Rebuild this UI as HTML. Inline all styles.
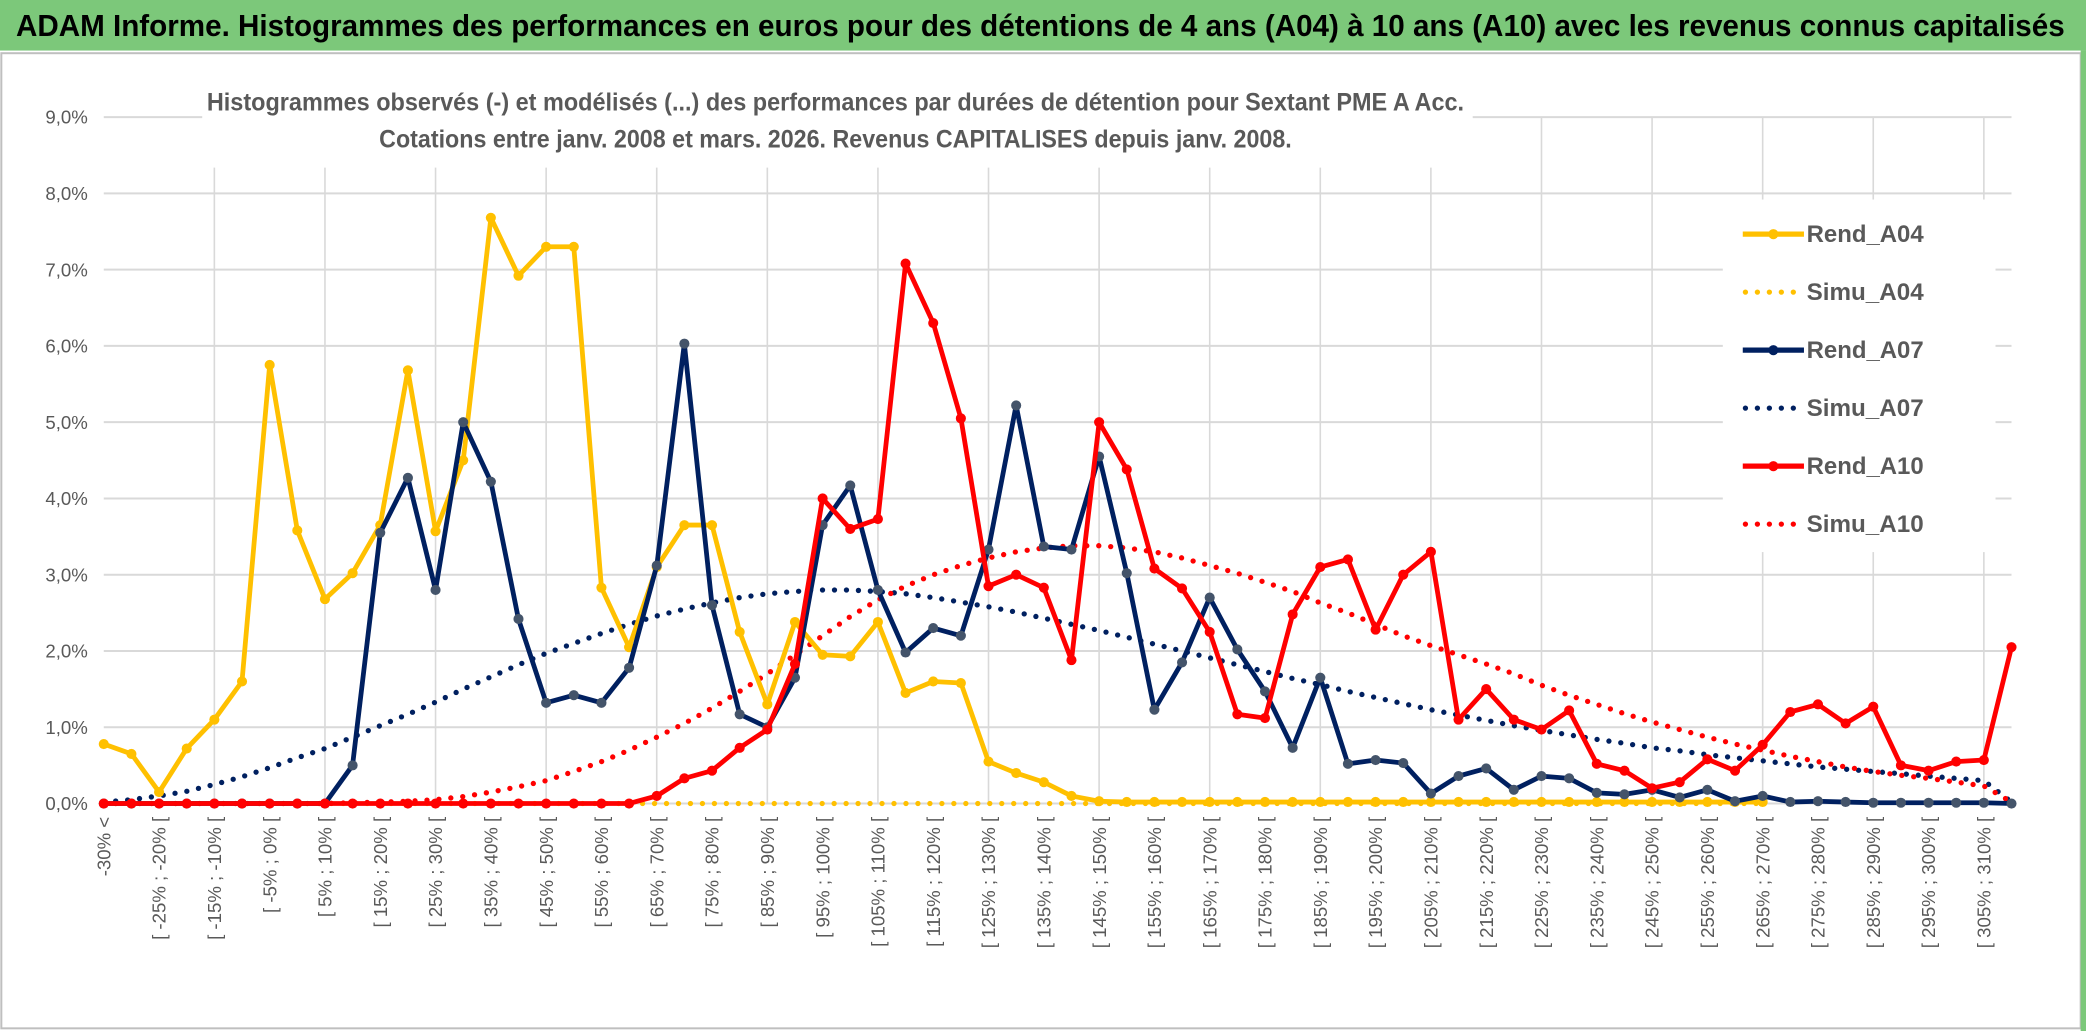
<!DOCTYPE html>
<html><head><meta charset="utf-8"><style>
html,body{margin:0;padding:0;background:#fff;}
svg{display:block;font-family:"Liberation Sans",sans-serif;}
</style></head><body>
<svg id="chart" width="2086" height="1031" viewBox="0 0 1568 775" preserveAspectRatio="none" xmlns="http://www.w3.org/2000/svg">
<rect x="0" y="0" width="1568" height="775" fill="#fff"/>
<rect x="0" y="0" width="1568" height="38" fill="#7cc87a"/>
<text x="12" y="27" font-size="23" font-weight="bold" fill="#000" textLength="1540" lengthAdjust="spacingAndGlyphs">ADAM Informe. Histogrammes des performances en euros pour des détentions de 4 ans (A04) à 10 ans (A10) avec les revenus connus capitalisés</text>
<rect x="1" y="40" width="1563" height="733" fill="none" stroke="#bfbfbf" stroke-width="1.5"/>
<rect x="1564" y="38" width="4" height="737" fill="#7cc87a"/>
<g id="grid"></g>
<g id="yaxis"></g>
<g id="xaxis"></g>
<g id="series"></g>
<rect x="152" y="62" width="955" height="64" fill="#fff"/>
<text x="628" y="83" font-size="19" font-weight="bold" fill="#595959" text-anchor="middle" textLength="945" lengthAdjust="spacingAndGlyphs">Histogrammes observés (-) et modélisés (...) des performances par durées de détention pour Sextant PME A Acc.</text>
<text x="628" y="111" font-size="19" font-weight="bold" fill="#595959" text-anchor="middle" textLength="686" lengthAdjust="spacingAndGlyphs">Cotations entre janv. 2008 et mars. 2026. Revenus CAPITALISES depuis janv. 2008.</text>
<rect x="1295" y="150" width="205" height="265" fill="#fff"/>
<g id="legend"></g>
</svg>
<script>
const categories = ["-30% <"];
for (let a = -30; a < 315; a += 5) categories.push("[ " + a + "% ; " + (a + 5) + "% [");
const yTicks = [0,1,2,3,4,5,6,7,8,9];
const rendA04 = [0.78,0.65,0.15,0.72,1.1,1.6,5.75,3.58,2.68,3.02,3.65,5.68,3.57,4.5,7.68,6.92,7.3,7.3,2.83,2.05,3.1,3.65,3.65,2.25,1.3,2.38,1.95,1.93,2.38,1.45,1.6,1.58,0.55,0.4,0.28,0.1,0.03,0.02,0.02,0.02,0.02,0.02,0.02,0.02,0.02,0.02,0.02,0.02,0.02,0.02,0.02,0.02,0.02,0.02,0.02,0.02,0.02,0.02,0.02,0.02,0.02];
const simuA04 = [0,0,0,0,0,0,0,0,0,0,0,0,0,0,0,0,0,0,0,0,0,0,0,0,0,0,0,0,0,0,0,0,0,0,0,0,0,0,0,0,0,0,0,0,0,0,0,0,0,0,0,0,0,0,0,0,0,0,0,0,0];
const rendA07 = [0,0,0,0,0,0,0,0,0,0.5,3.55,4.27,2.8,5.0,4.22,2.42,1.32,1.42,1.32,1.78,3.12,6.03,2.6,1.17,1.0,1.65,3.65,4.17,2.8,1.98,2.3,2.2,3.33,5.22,3.37,3.33,4.55,3.02,1.23,1.85,2.7,2.02,1.47,0.73,1.65,0.52,0.57,0.53,0.13,0.36,0.46,0.18,0.36,0.33,0.14,0.12,0.18,0.08,0.18,0.03,0.1,0.02,0.03,0.02,0.01,0.01,0.01,0.01,0.01,0];
const simuA07 = [0.02,0.05,0.1,0.16,0.25,0.35,0.47,0.6,0.72,0.87,1.02,1.17,1.33,1.5,1.66,1.82,1.97,2.1,2.23,2.35,2.46,2.55,2.63,2.7,2.75,2.78,2.8,2.8,2.78,2.75,2.7,2.64,2.58,2.51,2.43,2.35,2.27,2.18,2.09,2.0,1.91,1.82,1.73,1.64,1.56,1.47,1.39,1.31,1.23,1.16,1.09,1.02,0.96,0.9,0.84,0.79,0.73,0.69,0.64,0.6,0.56,0.52,0.48,0.45,0.42,0.39,0.36,0.33,0.3,0.02];
const rendA10 = [0,0,0,0,0,0,0,0,0,0,0,0,0,0,0,0,0,0,0,0,0.1,0.33,0.43,0.73,0.97,1.83,4.0,3.6,3.73,7.08,6.3,5.05,2.85,3.0,2.83,1.88,5.0,4.38,3.08,2.82,2.25,1.17,1.12,2.48,3.1,3.2,2.28,3.0,3.3,1.1,1.5,1.1,0.97,1.22,0.52,0.43,0.2,0.28,0.58,0.43,0.77,1.2,1.3,1.05,1.27,0.5,0.43,0.55,0.57,2.05];
const simuA10 = [0,0,0,0,0,0,0,0,0,0.01,0.02,0.03,0.05,0.09,0.15,0.22,0.3,0.42,0.55,0.7,0.87,1.05,1.25,1.47,1.7,1.95,2.2,2.45,2.67,2.85,3.0,3.12,3.22,3.3,3.35,3.38,3.38,3.35,3.3,3.22,3.12,3.02,2.9,2.78,2.63,2.5,2.35,2.2,2.07,1.95,1.83,1.7,1.55,1.42,1.3,1.18,1.07,0.97,0.87,0.78,0.7,0.62,0.55,0.48,0.42,0.37,0.33,0.28,0.23,0.02];

const NS = "http://www.w3.org/2000/svg";
const X0 = 78, X1 = 1512, Y0 = 604, YPER = 57.33;
function xs(i){ return X0 + i * (X1 - X0) / (categories.length - 1); }
function ys(v){ return Y0 - v * YPER; }
function mk(tag, attrs, parent){ const e = document.createElementNS(NS, tag); for (const k in attrs) e.setAttribute(k, attrs[k]); parent.appendChild(e); return e; }

const grid = document.getElementById("grid");
const yaxis = document.getElementById("yaxis");
const xaxis = document.getElementById("xaxis");
yTicks.forEach(t => {
  const l = mk("line", {x1: X0, x2: X1, y1: ys(t), y2: ys(t), stroke: "#d9d9d9", "stroke-width": 1.5}, grid);
  
  
  const tx = mk("text", {x: 66, y: ys(t) + 5, "font-size": 14, fill: "#595959", "text-anchor": "end"}, yaxis);
  tx.textContent = t.toFixed(1).replace(".", ",") + "%";
  
  
});
categories.forEach((c, i) => {
  if (i % 4 === 0 && i > 0) {
    const l = mk("line", {x1: xs(i), x2: xs(i), y1: ys(9), y2: Y0, stroke: "#d9d9d9", "stroke-width": 1.2}, grid);
    
    
  }
  if (i % 2 === 0) {
    const tx = mk("text", {x: 0, y: 0, "font-size": 14, fill: "#595959", "text-anchor": "end", transform: "translate(" + (xs(i) + 5) + ",614) rotate(-90)"}, xaxis);
    tx.textContent = c;
    
    
  }
});
const ax = mk("line", {x1: X0, x2: X1, y1: Y0, y2: Y0, stroke: "#d9d9d9", "stroke-width": 1.5}, grid);



const seriesG = document.getElementById("series");
function pts(arr){ return arr.map((v, i) => xs(i).toFixed(1) + "," + ys(v).toFixed(1)).join(" "); }
function dotted(arr, color, name){
  const p = mk("polyline", {points: pts(arr), fill: "none", stroke: color, "stroke-width": 4, "stroke-linecap": "round", "stroke-dasharray": "0 9"}, seriesG);
  
  
}
function solid(arr, color, mcolor, name){
  const g = mk("g", {}, seriesG);
  
  
  mk("polyline", {points: pts(arr), fill: "none", stroke: color, "stroke-width": 3.6, "stroke-linejoin": "round"}, g);
  arr.forEach((v, i) => {
    const c = mk("circle", {cx: xs(i), cy: ys(v), r: 3.8, fill: mcolor}, g);
    
    
  });
}
dotted(simuA04, "#ffc000", "simu-a04-line");
dotted(simuA07, "#002060", "simu-a07-line");
dotted(simuA10, "#ff0000", "simu-a10-line");
solid(rendA04, "#ffc000", "#ffc000", "rend-a04-line");
solid(rendA07, "#002060", "#44546a", "rend-a07-line");
solid(rendA10, "#ff0000", "#ff0000", "rend-a10-line");

const legend = document.getElementById("legend");
const legendItems = [["Rend_A04","#ffc000",false],["Simu_A04","#ffc000",true],["Rend_A07","#002060",false],["Simu_A07","#002060",true],["Rend_A10","#ff0000",false],["Simu_A10","#ff0000",true]];
legendItems.forEach((it, k) => {
  const y = 176 + k * 43.6;
  const g = mk("g", {}, legend);
  
  
  if (it[2]) mk("line", {x1: 1312, x2: 1354, y1: y, y2: y, stroke: it[1], "stroke-width": 4, "stroke-linecap": "round", "stroke-dasharray": "0 9"}, g);
  else { mk("line", {x1: 1310, x2: 1356, y1: y, y2: y, stroke: it[1], "stroke-width": 4}, g); mk("circle", {cx: 1333, cy: y, r: 3.8, fill: it[1]}, g); }
  const t = mk("text", {x: 1358, y: y + 6, "font-size": 18, "font-weight": "bold", fill: "#595959", textLength: 88, lengthAdjust: "spacingAndGlyphs"}, g);
  t.textContent = it[0];
});
</script>
</body></html>
